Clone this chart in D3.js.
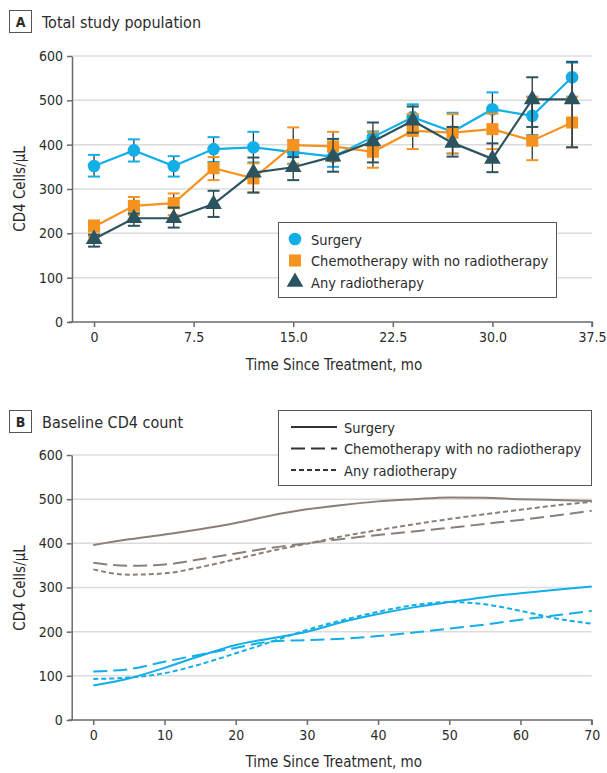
<!DOCTYPE html>
<html>
<head>
<meta charset="utf-8">
<script src="https://cdn.jsdelivr.net/npm/d3@7"></script>
<style>
  body { margin: 0; background: #fff; }
  svg { display: block; }
  text { font-family: "Liberation Sans Narrow", "DejaVu Sans Condensed", "Noto Sans", sans-serif; fill: #2b2b2b; }
</style>
</head>
<body>
<svg id="chart" width="607" height="773"></svg>
<script>
// ---- panel A data (months, CD4 mean, upper, lower) ----
const monthsA = [0, 3, 6, 9, 12, 15, 18, 21, 24, 27, 30, 33, 36];
const surgeryA = [352, 387, 352, 390, 394, 383, 373, 417, 462, 429, 480, 465, 552];
const surgeryHi = [377, 412, 374, 417, 429, 410, 398, 430, 491, 472, 518, 508, 585];
const surgeryLo = [328, 362, 328, 361, 360, 357, 350, 400, 438, 380, 435, 422, 508];
const chemoA = [215, 262, 268, 347, 324, 399, 396, 384, 431, 427, 435, 409, 450];
const chemoHi = [229, 282, 290, 372, 358, 439, 429, 428, 469, 469, 470, 508, 508];
const chemoLo = [192, 241, 241, 320, 292, 356, 363, 348, 390, 380, 390, 365, 394];
const radioA = [187, 234, 234, 266, 337, 349, 373, 407, 454, 404, 368, 502, 502];
const radioHi = [197, 245, 258, 296, 371, 372, 413, 450, 486, 440, 403, 552, 587];
const radioLo = [170, 217, 213, 237, 292, 320, 339, 360, 427, 373, 338, 440, 394];

const xTicksA = [0, 7.5, 15, 22.5, 30, 37.5];
const xTickLabelsA = ["0", "7.5", "15.0", "22.5", "30.0", "37.5"];
const yTicks = [0, 100, 200, 300, 400, 500, 600];

// ---- panel B data (fitted curves, months 0..70 step 5) ----
const monthsB = [0, 5, 10, 15, 20, 25, 30, 35, 40, 45, 50, 55, 60, 65, 70];
const highSurgery = [396, 409, 420, 432, 446, 463, 477, 487, 495, 500, 504, 503, 500, 498, 496];
const highChemo   = [356, 349, 352, 364, 377, 390, 400, 410, 419, 427, 435, 444, 453, 463, 474];
const highRadio   = [341, 329, 332, 346, 364, 383, 399, 416, 430, 443, 455, 466, 476, 486, 494];
const lowSurgery  = [78, 94, 118, 145, 170, 185, 200, 222, 240, 255, 267, 278, 287, 295, 302];
const lowChemo    = [110, 115, 132, 148, 163, 178, 181, 184, 190, 198, 207, 216, 227, 237, 247];
const lowRadio    = [93, 96, 106, 126, 151, 177, 204, 226, 245, 260, 267, 262, 247, 230, 218];
const xTicksB = [0, 10, 20, 30, 40, 50, 60, 70];

const groups = ["Surgery", "Chemotherapy with no radiotherapy", "Any radiotherapy"];

const cBlue = "#12aee8", cOrange = "#f6921e", cDark = "#2c5460";
const cGray = "#8a8078";
const axisColor = "#6b6b6b", gridColor = "#dcdcdc";

const svg = d3.select("#chart");

function panelTitle(letter, label, y) {
  svg.append("rect").attr("x", 9.5).attr("y", y).attr("width", 22).attr("height", 22)
    .attr("fill", "#fff").attr("stroke", "#555").attr("stroke-width", 1);
  svg.append("text").attr("x", 20.5).attr("y", y + 16.5).attr("text-anchor", "middle")
    .style("font-size", "14px").style("font-weight", "bold").text(letter);
  svg.append("text").attr("x", 42).attr("y", y + 17)
    .style("font-size", "16px").text(label);
}

function drawAxes(x, y, xTicks, xFmt, yLabelY, xLabelY) {
  const left = x.range()[0], right = x.range()[1];
  // gridlines
  svg.append("g").selectAll("line").data(yTicks.filter(d => d > 0)).join("line")
    .attr("x1", left).attr("x2", right)
    .attr("y1", d => y(d)).attr("y2", d => y(d))
    .attr("stroke", gridColor).attr("stroke-width", 1.5);

  const gy = svg.append("g").attr("transform", `translate(${left},0)`)
    .call(d3.axisLeft(y).tickValues(yTicks).tickSize(5).tickSizeOuter(0).tickPadding(4));
  const gx = svg.append("g").attr("transform", `translate(0,${y(0)})`)
    .call(d3.axisBottom(x).tickValues(xTicks).tickFormat(xFmt).tickSize(5).tickSizeOuter(0).tickPadding(5));
  [gx, gy].forEach(g => {
    g.select(".domain").attr("stroke", axisColor).attr("stroke-width", 1.5);
    g.selectAll(".tick line").attr("stroke", axisColor).attr("stroke-width", 1.5);
    g.selectAll(".tick text").style("font-size", "14px").attr("fill", "#2b2b2b")
      .style("font-family", '"Liberation Sans Narrow", "DejaVu Sans Condensed", sans-serif');
  });
  gx.select(".domain").attr("d", `M${left - 3},0H${right}V5`);

  svg.append("text").attr("transform", `translate(25,${yLabelY}) rotate(-90)`)
    .attr("text-anchor", "middle").style("font-size", "15px").text("CD4 Cells/µL");
  svg.append("text").attr("x", (left + right) / 2 + 2).attr("y", xLabelY)
    .attr("text-anchor", "middle").style("font-size", "15px").text("Time Since Treatment, mo");
}

// ================= Panel A =================
panelTitle("A", "Total study population", 10.5);
const xA = d3.scaleLinear().domain([-1.66, 37.5]).range([72, 592]);
const yA = d3.scaleLinear().domain([0, 600]).range([322, 56]);
drawAxes(xA, yA, xTicksA, (d, i) => xTickLabelsA[i], 189, 370);

const seriesA = [
  { name: groups[0], mean: surgeryA, hi: surgeryHi, lo: surgeryLo, color: cBlue, shape: d3.symbolCircle, size: 125 },
  { name: groups[1], mean: chemoA, hi: chemoHi, lo: chemoLo, color: cOrange, shape: d3.symbolSquare, size: 145 },
  { name: groups[2], mean: radioA, hi: radioHi, lo: radioLo, color: cDark, shape: d3.symbolTriangle, size: 120 }
];

const lineA = d3.line().x(d => xA(d[0])).y(d => yA(d[1]));
seriesA.forEach(s => {
  const g = svg.append("g");
  const pts = monthsA.map((m, i) => [m, s.mean[i], s.hi[i], s.lo[i]]);
  g.append("path").datum(pts).attr("d", lineA).attr("fill", "none")
    .attr("stroke", s.color).attr("stroke-width", 2.2);
  // error bars
  g.selectAll(".eb").data(pts).join("line")
    .attr("x1", d => xA(d[0])).attr("x2", d => xA(d[0]))
    .attr("y1", d => yA(d[2])).attr("y2", d => yA(d[3]))
    .attr("stroke", "#333").attr("stroke-width", 1.3);
  ["hi", "lo"].forEach((k, j) => {
    g.selectAll(".cap" + k).data(pts).join("line")
      .attr("x1", d => xA(d[0]) - 6).attr("x2", d => xA(d[0]) + 6)
      .attr("y1", d => yA(d[2 + j])).attr("y2", d => yA(d[2 + j]))
      .attr("stroke", s.color).attr("stroke-width", 2);
  });
  g.selectAll(".pt").data(pts).join("path")
    .attr("transform", d => `translate(${xA(d[0])},${yA(d[1])})`)
    .attr("d", d3.symbol().type(s.shape).size(s.size))
    .attr("fill", s.color);
});

// legend A
const legA = svg.append("g");
legA.append("rect").attr("x", 278.5).attr("y", 222.5).attr("width", 278).attr("height", 75)
  .attr("fill", "#fff").attr("stroke", "#555").attr("stroke-width", 1);
seriesA.forEach((s, i) => {
  const yy = 239 + i * 21.5;
  legA.append("path").attr("transform", `translate(295,${yy})`)
    .attr("d", d3.symbol().type(s.shape).size(s.size)).attr("fill", s.color);
  legA.append("text").attr("x", 311).attr("y", yy + 5.5).style("font-size", "14.5px").text(s.name);
});

// ================= Panel B =================
panelTitle("B", "Baseline CD4 count", 410.5);
const xB = d3.scaleLinear().domain([-3.03, 70]).range([71.7, 591.7]);
const yB = d3.scaleLinear().domain([0, 600]).range([720, 455]);
drawAxes(xB, yB, xTicksB, d3.format("d"), 588, 767);

const dashes = ["none", "14,6", "5,3"];
const curvesB = [
  { vals: highSurgery, color: cGray, dash: dashes[0] },
  { vals: highChemo, color: cGray, dash: dashes[1] },
  { vals: highRadio, color: cGray, dash: dashes[2] },
  { vals: lowSurgery, color: cBlue, dash: dashes[0] },
  { vals: lowChemo, color: cBlue, dash: dashes[1] },
  { vals: lowRadio, color: cBlue, dash: dashes[2] }
];
const lineB = d3.line().x(d => xB(d[0])).y(d => yB(d[1])).curve(d3.curveMonotoneX);
curvesB.forEach(c => {
  svg.append("path").datum(monthsB.map((m, i) => [m, c.vals[i]]))
    .attr("d", lineB).attr("fill", "none").attr("stroke", c.color)
    .attr("stroke-width", 2).attr("stroke-dasharray", c.dash);
});

// legend B
const legB = svg.append("g");
legB.append("rect").attr("x", 278.5).attr("y", 410.5).attr("width", 313).attr("height", 75)
  .attr("fill", "#fff").attr("stroke", "#555").attr("stroke-width", 1);
groups.forEach((name, i) => {
  const yy = 427 + i * 21.5;
  legB.append("line").attr("x1", 291).attr("x2", 337).attr("y1", yy).attr("y2", yy)
    .attr("stroke", "#333").attr("stroke-width", 2).attr("stroke-dasharray", dashes[i]);
  legB.append("text").attr("x", 344).attr("y", yy + 5.5).style("font-size", "14.5px").text(name);
});
</script>
</body>
</html>
